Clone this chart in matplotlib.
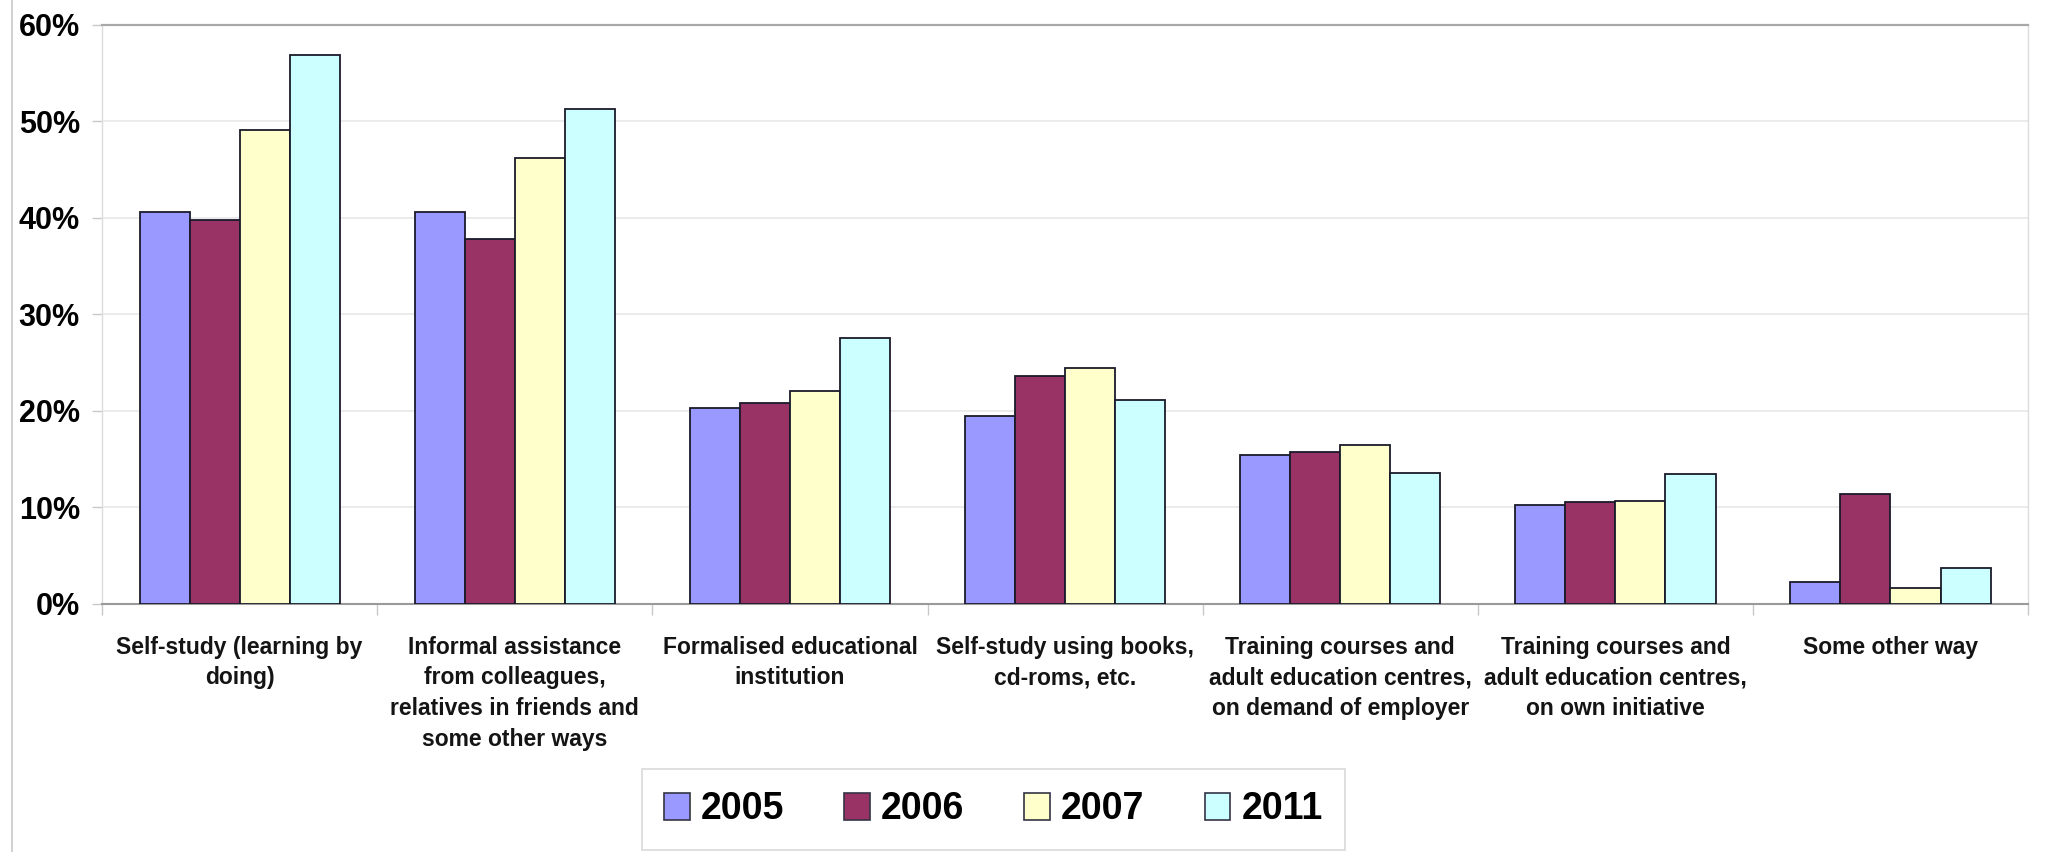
import matplotlib
matplotlib.use('Agg')
import matplotlib.pyplot as plt
from matplotlib import font_manager
from matplotlib.ticker import FixedLocator
import numpy as np

categories = [
    'Self-study (learning by\ndoing)',
    'Informal assistance\nfrom colleagues,\nrelatives in friends and\nsome other ways',
    'Formalised educational\ninstitution',
    'Self-study using books,\ncd-roms, etc.',
    'Training courses and\nadult education centres,\non demand of employer',
    'Training courses and\nadult education centres,\non own initiative',
    'Some other way',
]
years = ['2005', '2006', '2007', '2011']
share_2005 = [40.6, 40.6, 20.3, 19.5, 15.4, 10.3, 2.3]
share_2006 = [39.8, 37.8, 20.8, 23.6, 15.8, 10.6, 11.4]
share_2007 = [49.1, 46.2, 22.1, 24.5, 16.5, 10.7, 1.7]
share_2011 = [56.9, 51.3, 27.6, 21.1, 13.6, 13.5, 3.7]
bar_colors = ['#9999ff', '#993366', '#ffffcc', '#ccffff']
y_ticks = [0, 10, 20, 30, 40, 50, 60]

series = [share_2005, share_2006, share_2007, share_2011]

# narrow face for the category and legend text if it is there
installed = {f.name for f in font_manager.fontManager.ttflist}
if 'Liberation Sans Narrow' in installed:
    label_font, cat_size, leg_size = 'Liberation Sans Narrow', 19.5, 31
else:
    label_font, cat_size, leg_size = 'Liberation Sans', 16.5, 27
plt.rcParams['font.family'] = ['Liberation Sans', 'DejaVu Sans']

fig = plt.figure(figsize=(20.5, 8.52), dpi=100)
ax = fig.add_axes([0.0498, 0.2911, 0.9395, 0.6796])

x = np.arange(len(categories))
width = 0.182
for i, (vals, year) in enumerate(zip(series, years)):
    offs = (i - 1.5) * width
    ax.bar(x + offs, vals, width, color=bar_colors[i], edgecolor='#1a1a2a',
           linewidth=1.3, label=year, zorder=3)

ax.set_xlim(-0.5, len(categories) - 0.5)
ax.set_ylim(0, 60)

# y axis: percent labels, faint gridlines
ax.set_yticks(y_ticks)
ax.set_yticklabels([f'{t}%' for t in y_ticks], fontsize=22, fontweight='bold')
ax.yaxis.grid(True, color='#e8e8e8', linewidth=1.2, zorder=0)
ax.tick_params(axis='y', length=7, width=1, color='#c8c8c8', pad=9)

# x axis: labels at centres, tick marks at category boundaries
ax.set_xticks(x)
ax.set_xticklabels(categories, fontsize=cat_size, fontweight='bold',
                   family=[label_font, 'DejaVu Sans'], color='#141414',
                   linespacing=1.42, va='top')
ax.tick_params(axis='x', which='major', length=0, pad=23)
ax.xaxis.set_minor_locator(FixedLocator(np.arange(len(categories) + 1) - 0.5))
ax.tick_params(axis='x', which='minor', length=8, width=1, color='#c8c8c8')

ax.spines['top'].set_color('#a8a8a8')
ax.spines['top'].set_linewidth(1.6)
ax.spines['bottom'].set_color('#9a9a9a')
ax.spines['bottom'].set_linewidth(1.5)
ax.spines['left'].set_color('#dcdcdc')
ax.spines['right'].set_color('#dcdcdc')
ax.spines['left'].set_linewidth(1.0)
ax.spines['right'].set_linewidth(1.0)
ax.set_axisbelow(True)

# outer chart border on the left
fig.add_artist(plt.Line2D([0.006, 0.006], [0, 1], color='#c8c8c8',
                          linewidth=1.2, transform=fig.transFigure))

leg = fig.legend(loc='center', bbox_to_anchor=(0.4846, 0.050), ncol=4,
                 frameon=True, fancybox=False, edgecolor='#d0d0d0',
                 prop={'family': [label_font, 'DejaVu Sans'], 'weight': 'bold',
                       'size': leg_size},
                 handlelength=0.68, handleheight=0.75, handletextpad=0.3,
                 columnspacing=1.6, borderpad=0.6)
leg.get_frame().set_linewidth(1.2)
for h in leg.legend_handles:
    h.set_edgecolor('#333344')
    h.set_linewidth(1.2)

fig.savefig('out.png', dpi=100, facecolor='white')
